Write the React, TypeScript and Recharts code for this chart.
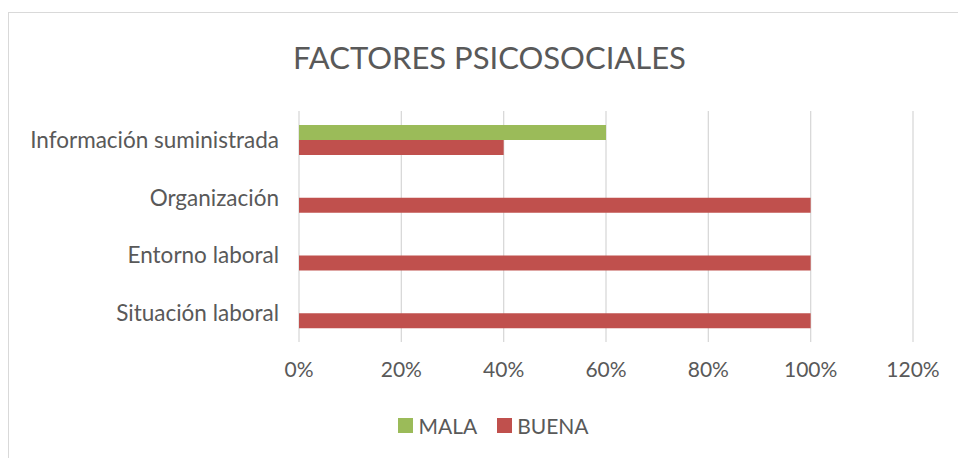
import React from 'react'
import { BarChart, Bar, XAxis, YAxis, CartesianGrid } from 'recharts'

const categories = ['Información suministrada', 'Organización', 'Entorno laboral', 'Situación laboral']
const mala = [60, 0, 0, 0]
const buena = [40, 100, 100, 100]
const xTicks = [0, 20, 40, 60, 80, 100, 120]

const seriesInfo = [
  { key: 'mala', name: 'MALA', color: '#9BBB59' },
  { key: 'buena', name: 'BUENA', color: '#C0504D' },
]

const data = categories.map((c, i) => ({ name: c, mala: mala[i], buena: buena[i] }))

const FONT = 'Lato, "Open Sans", sans-serif'
const TEXT = '#595959'

export default function App() {
  return (
    <div style={{ position: 'absolute', left: 0, top: 0, width: 958, height: 458, overflow: 'hidden', background: '#fff', fontFamily: FONT }}>
      <div style={{ position: 'absolute', left: 8, top: 12, width: 980, height: 480, border: '1px solid #d9d9d9', boxSizing: 'border-box' }} />
      <div style={{ position: 'absolute', left: 0, width: 979, top: 37, textAlign: 'center', fontSize: 31, color: TEXT, lineHeight: '40px' }}>
        FACTORES PSICOSOCIALES
      </div>
      <div style={{ position: 'absolute', left: 0, top: 0 }}>
        <BarChart
          width={958}
          height={458}
          data={data}
          layout="vertical"
          margin={{ top: 111, right: 45, bottom: 86, left: 9 }}
          barSize={15}
          barGap={0}
          barCategoryGap={14}
        >
          <CartesianGrid horizontal={false} stroke="#d9d9d9" strokeWidth={1.3} />
          <XAxis
            type="number"
            domain={[0, 120]}
            ticks={xTicks}
            tickFormatter={(v) => `${v}%`}
            axisLine={false}
            tickLine={false}
            height={30}
            tickMargin={14}
            tick={{ fill: TEXT, fontSize: 21, fontFamily: FONT }}
          />
          <YAxis
            type="category"
            dataKey="name"
            width={290}
            axisLine={false}
            tickLine={false}
            tickMargin={14}
            tick={{ fill: TEXT, fontSize: 22.5, fontFamily: FONT }}
          />
          {seriesInfo.map((s) => (
            <Bar key={s.key} dataKey={s.key} name={s.name} fill={s.color} isAnimationActive={false} />
          ))}
        </BarChart>
      </div>
      <div style={{ position: 'absolute', left: 0, width: 987, top: 413, display: 'flex', justifyContent: 'center', gap: 20, fontSize: 21, color: TEXT }}>
        {seriesInfo.map((s) => (
          <div key={s.key} style={{ display: 'flex', alignItems: 'center' }}>
            <span style={{ display: 'inline-block', width: 15, height: 15, background: s.color, marginRight: 5 }} />
            <span>{s.name}</span>
          </div>
        ))}
      </div>
    </div>
  )
}
